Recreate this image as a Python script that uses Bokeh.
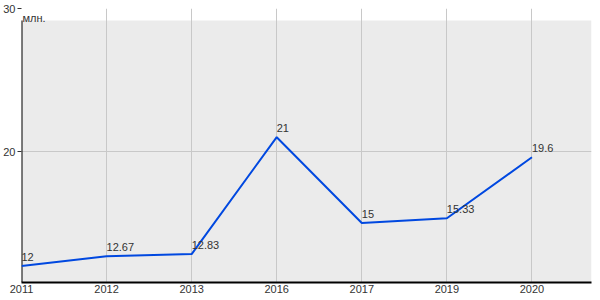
from bokeh.plotting import figure
from bokeh.models import Range1d, FixedTicker, BoxAnnotation, Label, ColumnDataSource
from bokeh.core.properties import value
from bokeh.embed import file_html
from bokeh.resources import INLINE

years = ["2011", "2012", "2013", "2016", "2017", "2019", "2020"]
values = [12, 12.67, 12.83, 21, 15, 15.33, 19.6]
labels = ["12", "12.67", "12.83", "21", "15", "15.33", "19.6"]
y_ticks = [20, 30]
unit = "млн."

xs = list(range(len(years)))
y_min, y_max = 10.84, 30
bg_top = 29.16
x_max = 6.70

FONT = value("Liberation Sans")

p = figure(width=600, height=300, output_backend="svg", toolbar_location=None,
           x_range=Range1d(0, x_max), y_range=Range1d(y_min, y_max),
           min_border_left=20, min_border_right=9, min_border_top=8, min_border_bottom=18)
p.outline_line_color = None
p.background_fill_color = "white"

bg = BoxAnnotation(top=bg_top, bottom=y_min, left=0, right=x_max,
                   fill_color="#ebebeb", fill_alpha=1, line_color=None, level="image")
p.add_layout(bg)

# grids
p.xgrid.ticker = FixedTicker(ticks=xs)
p.xgrid.grid_line_color = "#c8c8c8"
p.ygrid.ticker = FixedTicker(ticks=y_ticks)
p.ygrid.grid_line_color = "#c8c8c8"

# x axis
p.xaxis.ticker = FixedTicker(ticks=xs)
p.xaxis.major_label_overrides = {i: y for i, y in enumerate(years)}
p.xaxis.major_tick_line_color = None
p.xaxis.major_tick_in = 0
p.xaxis.major_tick_out = 0
p.xaxis.minor_tick_line_color = None
p.xaxis.axis_line_color = "black"
p.xaxis.axis_line_width = 2
p.xaxis.major_label_text_font = "Liberation Sans"
p.xaxis.major_label_text_font_size = "11px"
p.xaxis.major_label_text_color = "#333333"
p.xaxis.major_label_standoff = 2

# y axis
p.yaxis.ticker = FixedTicker(ticks=y_ticks)
p.yaxis.axis_line_color = None
p.yaxis.major_tick_in = 0
p.yaxis.major_tick_out = 4
p.yaxis.major_tick_line_color = "#333333"
p.yaxis.minor_tick_line_color = None
p.yaxis.major_label_text_font = "Liberation Sans"
p.yaxis.major_label_text_font_size = "11px"
p.yaxis.major_label_text_color = "#333333"
p.yaxis.major_label_standoff = 2

# left axis line only alongside the grey area
p.segment(x0=[0], y0=[y_min], x1=[0], y1=[bg_top], line_color="black", line_width=2)

src = ColumnDataSource(dict(x=xs, y=values, t=labels))
p.line("x", "y", source=src, line_color="#0048e0", line_width=2)
p.text("x", "y", text="t", source=src, text_font=FONT, text_font_size="11px",
       text_color="#333333", text_align="left", text_baseline="bottom", y_offset=-5)

p.add_layout(Label(x=0, y=y_max, text=unit, text_font="Liberation Sans", text_font_size="11px",
                   text_color="#333333", text_baseline="top", x_offset=1, y_offset=-3))

open("out.html", "w").write(file_html(p, INLINE))
